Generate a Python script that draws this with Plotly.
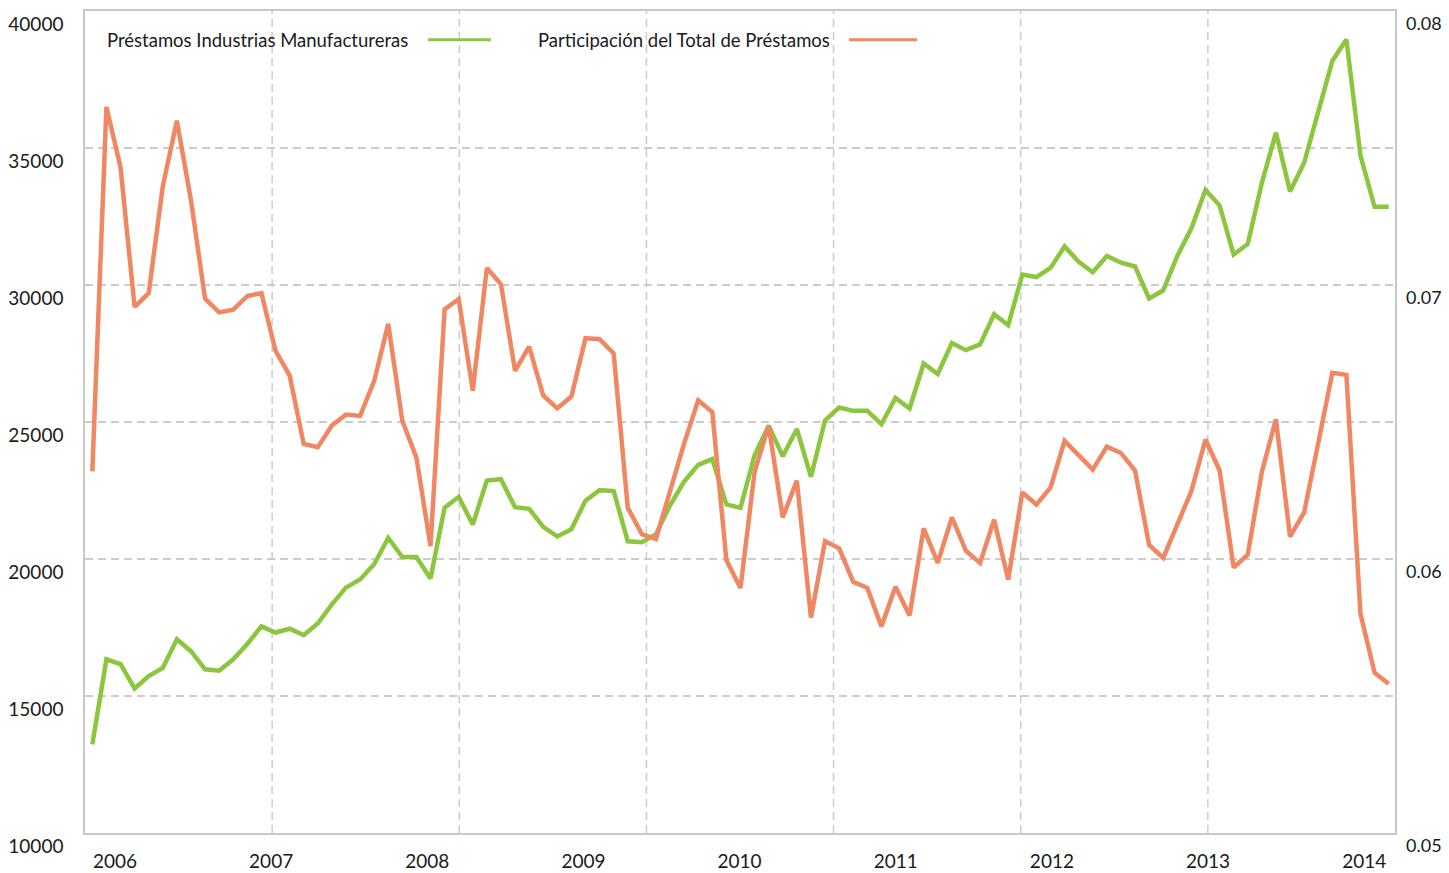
import plotly.graph_objects as go

# monthly series
prestamos = [
    13235, 16339, 16165, 15275, 15730, 16025, 17072, 16636, 15973, 15920,
    16339, 16897, 17542, 17316, 17455, 17220, 17647, 18345, 18955, 19252,
    19810, 20769, 20071, 20071, 19287, 21868, 22269, 21258, 22862, 22914,
    21890, 21833, 21170, 20821, 21083, 22129, 22513, 22478, 20647, 20612,
    20908, 21955, 22827, 23437, 23647, 21990, 21868, 23786, 24867, 23751,
    24745, 22999, 25059, 25530, 25408, 25408, 24920, 25879, 25495, 27135,
    26751, 27885, 27623, 27833, 28931, 28530, 30378, 30291, 30623, 31407,
    30849, 30466, 31059, 30814, 30675, 29506, 29803, 31059, 32070, 33465,
    32907, 31111, 31495, 33727, 35558, 33413, 34459, 36343, 38174, 38959,
    34721, 32855, 32855,
]
participacion = [
    0.0632, 0.0765, 0.0743, 0.0692, 0.0697, 0.0736, 0.0760, 0.0731, 0.0695, 0.0690,
    0.0691, 0.0696, 0.0697, 0.0676, 0.0667, 0.0642, 0.06408, 0.06487, 0.06527, 0.06522,
    0.06649, 0.06858, 0.06504, 0.0637, 0.06047, 0.06911, 0.06949, 0.06614, 0.07062, 0.07003,
    0.06687, 0.06775, 0.06597, 0.0655, 0.06593, 0.06806, 0.06802, 0.0675, 0.06187, 0.06091,
    0.06073, 0.06248, 0.06422, 0.06579, 0.06536, 0.05995, 0.05894, 0.06318, 0.06487, 0.06152,
    0.06286, 0.05786, 0.06065, 0.06039, 0.05917, 0.05894, 0.05754, 0.05899, 0.05794, 0.06112,
    0.05986, 0.06152, 0.0603, 0.05986, 0.06143, 0.05925, 0.06243, 0.06199, 0.0626, 0.06431,
    0.06379, 0.06326, 0.0641, 0.06387, 0.06323, 0.06051, 0.06004, 0.06122, 0.06248, 0.06436,
    0.06323, 0.05969, 0.06016, 0.06318, 0.0651, 0.06082, 0.0617, 0.06422, 0.0668, 0.06672,
    0.058, 0.05585, 0.05545,
]
years = ["2006", "2007", "2008", "2009", "2010", "2011", "2012", "2013", "2014"]

GREEN = "#8cc63f"
ORANGE = "#ef8862"
GRID = "#c9cdcc"
FONT = "Lato"

x = list(range(len(prestamos)))
x_lo, x_hi = -0.52, 92.45
# year labels sit at evenly spaced fractions of the axis width
label_pos = [x_lo + (0.0229 + k * 0.1192) * (x_hi - x_lo) for k in range(len(years))]

fig = go.Figure()
fig.add_trace(go.Scatter(x=x, y=prestamos, mode="lines", name="Préstamos Industrias Manufactureras",
                         line=dict(color=GREEN, width=4.5)))
fig.add_trace(go.Scatter(x=x, y=participacion, mode="lines", name="Participación del Total de Préstamos",
                         line=dict(color=ORANGE, width=4.5), yaxis="y2"))

# vertical dashed grid, 7 equal divisions of the plot width
for k in range(1, 7):
    fig.add_shape(type="line", xref="paper", yref="paper", x0=k / 7, x1=k / 7, y0=0, y1=1,
                  line=dict(color=GRID, width=1.5, dash="8px,5px"), layer="below")

# legend drawn by hand: text followed by line sample
legend_y = 0.965
fig.add_annotation(xref="paper", yref="paper", x=0.0153, y=legend_y, xanchor="left", yanchor="middle",
                   text="Préstamos Industrias Manufactureras", showarrow=False,
                   font=dict(family=FONT, size=18.5, color="#1a1a1a"))
fig.add_shape(type="line", xref="paper", yref="paper", x0=0.2618, x1=0.3099, y0=legend_y, y1=legend_y,
              line=dict(color=GREEN, width=3))
fig.add_annotation(xref="paper", yref="paper", x=0.3443, y=legend_y, xanchor="left", yanchor="middle",
                   text="Participación del Total de Préstamos", showarrow=False,
                   font=dict(family=FONT, size=18.5, color="#1a1a1a"))
fig.add_shape(type="line", xref="paper", yref="paper", x0=0.5832, x1=0.6351, y0=legend_y, y1=legend_y,
              line=dict(color=ORANGE, width=3))

# page body has an 8px margin, so the figure is sized to fit the window after it
fig.update_layout(
    width=1441, height=865,
    margin=dict(l=77, r=54, t=3, b=40),
    paper_bgcolor="white", plot_bgcolor="white",
    showlegend=False,
    font=dict(family=FONT, size=19, color="#1a1a1a"),
    xaxis=dict(range=[x_lo, x_hi], tickvals=label_pos, ticktext=years, showgrid=False, zeroline=False,
               showline=True, mirror=True, linecolor="#c8c8c8", linewidth=1.5, ticks="",
               ticklabelstandoff=10, automargin=False, tickfont=dict(size=19)),
    yaxis=dict(range=[10000, 40000], dtick=5000, tickformat="d", showgrid=True, gridcolor=GRID,
               gridwidth=1.5, griddash="8px,5px", zeroline=False, showline=True, mirror=True,
               linecolor="#c8c8c8", linewidth=1.5, ticks="", ticklabelposition="outside bottom",
               ticklabelstandoff=16, automargin=False),
    yaxis2=dict(range=[0.05, 0.08], dtick=0.01, tickformat=".2f", overlaying="y", side="right",
                showgrid=False, zeroline=False, showline=False, ticks="", tickfont=dict(size=18),
                ticklabelposition="outside bottom", ticklabelstandoff=10, automargin=False),
)

fig.write_html("out.html")
